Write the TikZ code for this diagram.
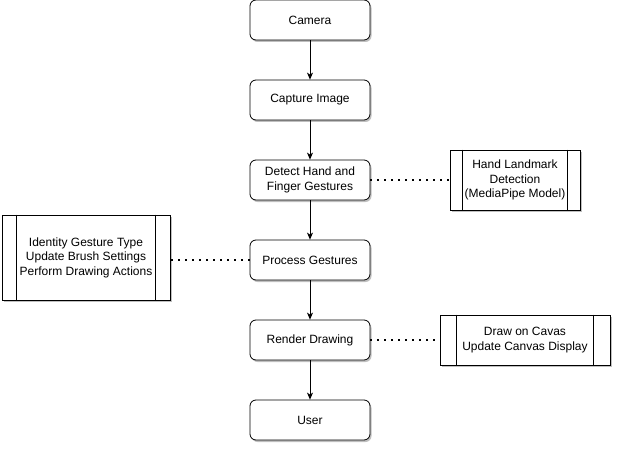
\documentclass[tikz,border=0pt]{standalone}
\usepackage{fontspec}
\setmainfont{Liberation Sans}
\usetikzlibrary{arrows.meta,shadows}
\begin{document}
\begin{tikzpicture}[x=1pt,y=-1pt,
  font=\fontsize{12}{14.4}\selectfont,
  shd/.style={drop shadow={shadow xshift=1.5pt,shadow yshift=-2pt,opacity=0.25,fill=black}},
  stepbox/.style={draw,rounded corners=6pt,fill=white,shd,minimum width=120pt,minimum height=40pt,align=center,inner sep=0pt,line width=0.8pt},
  procbox/.style={draw,fill=white,shd,align=center,inner sep=0pt,line width=0.8pt},
  flow/.style={draw,line width=0.8pt,-{Stealth[length=7pt,width=6pt,inset=2pt]}},
  dots/.style={draw,line width=1.4pt,dash pattern=on 1.4pt off 5.6pt}
]
\useasboundingbox (0,0) rectangle (622,452);
\node[stepbox] (cam) at (310,20) {Camera};
\node[stepbox] (cap) at (310,100) {Capture Image};
\node[stepbox] (det) at (310,180) {Detect Hand and\\Finger Gestures};
\node[stepbox] (pro) at (310,260) {Process Gestures};
\node[stepbox] (ren) at (310,340) {Render Drawing};
\node[stepbox] (usr) at (310,420) {User};

\node[procbox,minimum width=130pt,minimum height=60pt] (hl) at (515,180) {Hand Landmark\\Detection\\(MediaPipe Model)};
\draw[line width=0.8pt] ([xshift=13pt]hl.north west) -- ([xshift=13pt]hl.south west);
\draw[line width=0.8pt] ([xshift=-13pt]hl.north east) -- ([xshift=-13pt]hl.south east);

\node[procbox,minimum width=168pt,minimum height=85pt] (ig) at (86,257.5) {Identity Gesture Type\\Update Brush Settings\\Perform Drawing Actions};
\draw[line width=0.8pt] ([xshift=15pt]ig.north west) -- ([xshift=15pt]ig.south west);
\draw[line width=0.8pt] ([xshift=-15pt]ig.north east) -- ([xshift=-15pt]ig.south east);

\node[procbox,minimum width=170pt,minimum height=50pt] (dc) at (525,340) {Draw on Cavas\\Update Canvas Display};
\draw[line width=0.8pt] ([xshift=17pt]dc.north west) -- ([xshift=17pt]dc.south west);
\draw[line width=0.8pt] ([xshift=-17pt]dc.north east) -- ([xshift=-17pt]dc.south east);

\draw[flow] (cam) -- (cap);
\draw[flow] (cap) -- (det);
\draw[flow] (det) -- (pro);
\draw[flow] (pro) -- (ren);
\draw[flow] (ren) -- (usr);

\draw[dots] (det.east) -- (hl.west);
\draw[dots] (pro.west) -- (ig.east |- pro.west);
\draw[dots] (ren.east) -- (dc.west);
\end{tikzpicture}
\end{document}
